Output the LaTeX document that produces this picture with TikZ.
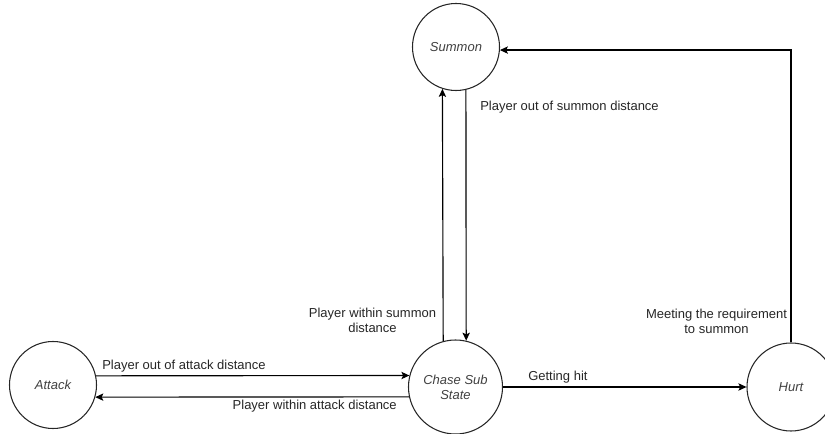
\documentclass[tikz,border=0pt]{standalone}
\usepackage{fontspec}
\setmainfont{Liberation Sans}
\usetikzlibrary{arrows.meta}
\begin{document}
\begin{tikzpicture}[x=0.75pt,y=-0.75pt,
  state/.style={circle,draw=black!85,line width=0.8pt,inner sep=0pt,font=\itshape\fontsize{9.75}{11.25}\selectfont,text=black!75,align=center},
  arr/.style={draw=black,line width=0.85pt,-{Stealth[length=6pt,width=5.5pt,inset=1.3pt]}},
  lbl/.style={font=\fontsize{9.75}{11.25}\selectfont,text=black!85,inner sep=0pt,align=center}]
\useasboundingbox (0,0) rectangle (825,434);
\node[state,minimum size=65.25pt] (summon) at (456,47) {Summon};
\node[state,minimum size=70.5pt] (chase) at (455.5,387) {Chase Sub\\State};
\node[state,minimum size=65.25pt] (attack) at (53,385) {Attack};
\node[state,minimum size=66pt] (hurt) at (791,387) {Hurt};

\draw[arr] (attack.12) -- (chase.166.5);
\draw[arr] (chase.192.3) -- (attack.-16);
\draw[arr] (chase.east) -- (hurt.west);
\draw[arr] (chase.105.4) -- (summon.252.6);
\draw[arr] (summon.283.3) -- (chase.77.1);
\draw[arr] (hurt.north) |- (summon.-4);

\node[lbl,anchor=west] (l1) at (480,107.5) {Player out of summon distance};
\node[lbl] (l2) at (372.5,320.5) {Player within summon\\distance};
\node[lbl] (l3) at (716.5,321) {Meeting the requirement\\to summon};
\node[lbl,anchor=west] (l4) at (102,366) {Player out of attack distance};
\node[lbl,anchor=east] (l5) at (397,406.5) {Player within attack distance};
\node[lbl,anchor=west] (l6) at (528,377.5) {Getting hit};
\end{tikzpicture}
\end{document}
